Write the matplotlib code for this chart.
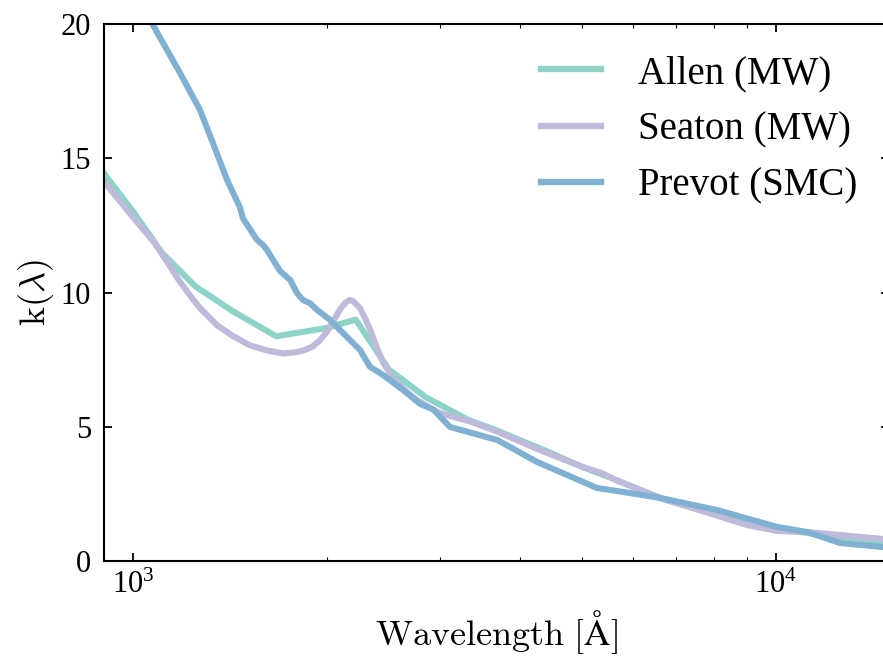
import matplotlib
matplotlib.use("Agg")
import matplotlib.pyplot as plt
from matplotlib.ticker import NullFormatter, FixedLocator

plt.rcParams['font.family'] = ['Liberation Serif', 'DejaVu Serif']
plt.rcParams['mathtext.fontset'] = 'stix'

# ---- data ----
allen_wave = [900, 1000, 1110, 1250, 1430, 1670, 2000, 2220, 2500, 2850, 3330,
              3650, 4000, 4400, 5000, 5530, 6700, 9000, 10000, 20000]
allen_k = [14.45, 13.02, 11.47, 10.23, 9.30, 8.37, 8.68, 8.99, 7.13, 6.11, 5.24,
           4.90, 4.50, 4.09, 3.50, 3.10, 2.29, 1.43, 1.18, 0.34]

seaton_wave = [900, 1000, 1080, 1129, 1183, 1230, 1271, 1351, 1430, 1521, 1616, 1711,
               1800, 1850, 1900, 1950, 2000, 2050, 2100, 2140, 2170, 2200, 2254,
               2300, 2337, 2390, 2448, 2510, 2575, 2680, 2765, 2900, 3002, 3226,
               3343, 3683, 4295, 5010, 5325, 5720, 6601, 9014, 10037, 11176, 12578,
               14670, 15000]
seaton_k = [14.15, 12.80, 11.85, 11.15, 10.40, 9.85, 9.42, 8.78, 8.38, 8.03, 7.84, 7.73,
            7.78, 7.86, 7.98, 8.20, 8.52, 8.95, 9.38, 9.62, 9.72, 9.68, 9.42,
            9.00, 8.62, 8.00, 7.40, 6.98, 6.66, 6.25, 6.00, 5.70, 5.51, 5.30,
            5.20, 4.82, 4.13, 3.50, 3.30, 2.95, 2.35, 1.34, 1.12, 1.08, 0.97,
            0.82, 0.80]

prevot_wave = [1000, 1074, 1183, 1271, 1331, 1400, 1466, 1483, 1559, 1593, 1616,
               1693, 1755, 1799, 1838, 1885, 1933, 2025, 2175, 2254, 2337, 2448,
               2630, 2795, 2929, 3112, 3683, 4249, 5268, 5930, 6601, 8094, 10037,
               11176, 12578, 14670, 15000]
prevot_k = [21.20, 19.96, 18.18, 16.80, 15.57, 14.20, 13.18, 12.75, 11.96, 11.77, 11.58,
            10.80, 10.47, 9.98, 9.72, 9.60, 9.35, 8.98, 8.23, 7.86, 7.23, 6.93,
            6.37, 5.85, 5.65, 4.99, 4.51, 3.69, 2.72, 2.53, 2.35, 1.90, 1.27,
            1.08, 0.67, 0.52, 0.50]

labels = ['Allen (MW)', 'Seaton (MW)', 'Prevot (SMC)']
colors = ['#8dd3c7', '#bebada', '#80b1d3']

W, H = 883, 657
fig = plt.figure(figsize=(W / 100, H / 100), dpi=100)
left, right, top, bottom = 103.6, 889.2, 24, 561
ax = fig.add_axes([left / W, 1 - bottom / H, (right - left) / W, (bottom - top) / H])

for wv, kv, lab, c in zip([allen_wave, seaton_wave, prevot_wave],
                          [allen_k, seaton_k, prevot_k], labels, colors):
    ax.plot(wv, kv, color=c, lw=4.4, label=lab, solid_joinstyle='round')

ax.set_xscale('log')
ax.set_xlim(900, 15000)
ax.set_ylim(0, 20)
ax.yaxis.set_major_locator(FixedLocator([0, 5, 10, 15, 20]))
ax.xaxis.set_minor_formatter(NullFormatter())

for s in ax.spines.values():
    s.set_linewidth(1.5)

ax.tick_params(which='both', direction='in', top=True, right=True)
ax.tick_params(which='major', length=6, width=1.3, labelsize=22)
ax.tick_params(which='minor', length=3, width=0.8)
ax.tick_params(axis='y', which='major', pad=9)
ax.tick_params(axis='x', which='major', pad=7)

ax.set_xlabel(r'$\mathrm{Wavelength\ [\AA]}$', fontsize=26, math_fontfamily='cm', labelpad=6)
ax.set_ylabel(r'$\mathrm{k(\lambda)}$', fontsize=26, math_fontfamily='cm', labelpad=3)

leg = ax.legend(loc='upper left', bbox_to_anchor=(541 / W, 1 - 55 / H),
                bbox_transform=fig.transFigure, frameon=False, fontsize=28,
                handlelength=1.55, handletextpad=0.95, labelspacing=0.5,
                borderpad=0, borderaxespad=0)
for line in leg.get_lines():
    line.set_linewidth(4.6)

fig.savefig('out.png', dpi=100)
